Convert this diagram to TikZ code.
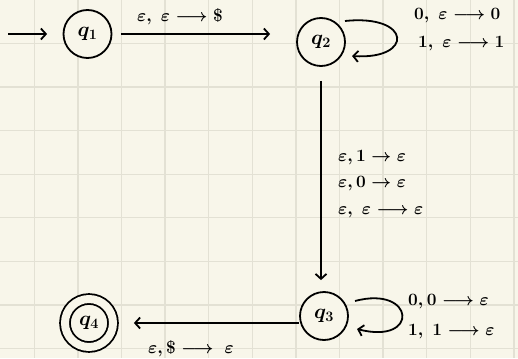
\documentclass[tikz,border=0pt]{standalone}
\usetikzlibrary{arrows.meta}
\definecolor{paper}{HTML}{F8F6EA}
\definecolor{gridline}{HTML}{E3E1D4}
\begin{document}
\begin{tikzpicture}[
    x=1pt, y=-1pt,
    state/.style={circle, draw, fill=paper, line width=1.8pt, minimum size=48pt, inner sep=0pt, font=\fontsize{20}{24}\selectfont\boldmath},
    accept/.style={state, double=paper, double distance=8pt, line width=1.8pt},
    lbl/.style={anchor=west, inner sep=0pt, font=\fontsize{19}{22}\selectfont\boldmath},
    trans/.style={line width=1.8pt, -{Straight Barb[length=5pt, width=11pt]}}
]

% Paper and grid
\fill[paper] (0,0) rectangle (518,358);
\useasboundingbox (0,0) rectangle (518,358);
\foreach \i in {0,...,11}
    \draw[gridline, line width=1.3pt] ({34.3+43.6*\i},0) -- ({34.3+43.6*\i},358);
\foreach \j in {0,...,7}
    \draw[gridline, line width=1.3pt] (0,{43.4+43.6*\j}) -- (518,{43.4+43.6*\j});

% States
\node[state] (q1) at (87.5,34) {$q_1$};
\node[state] (q2) at (321,42) {$q_2$};
\node[state] (q3) at (324,316) {$q_3$};
\node[accept] (q4) at (89,323) {$q_4$};

% Loop ends
\coordinate (start) at (8,34);
\coordinate (q2out) at (345,21);
\coordinate (q2in) at (352,56);
\coordinate (q3out) at (355,301);
\coordinate (q3in) at (357,329);

% Transitions
\draw[trans, shorten >=15.5pt] (start) -- (q1);
\draw[trans, shorten <=8.5pt, shorten >=26pt] (q1.east) -- (q1.east -| q2.west);
\draw[trans, shorten <=14pt, shorten >=11pt] (q2.south) -- (q2.south |- q3.north);
\draw[trans, shorten >=20pt] (q4.east -| q3.west) -- (q4.east);
\draw[trans] (q2out) .. controls (412,14) and (414,60) .. (q2in);
\draw[trans] (q3out) .. controls (415,285) and (420,345) .. (q3in);

% Labels
\node[lbl] (l12) at (137,17) {$\varepsilon,\ \varepsilon\longrightarrow\$$};
\node[lbl] (l22a) at (414,16) {$0,\ \varepsilon\longrightarrow 0$};
\node[lbl] (l22b) at (418,44) {$1,\ \varepsilon\longrightarrow 1$};
\node[lbl] (l23a) at (338,158) {$\varepsilon,1\to\varepsilon$};
\node[lbl] (l23b) at (338,184) {$\varepsilon,0\to\varepsilon$};
\node[lbl] (l23c) at (338,212) {$\varepsilon,\ \varepsilon\longrightarrow\varepsilon$};
\node[lbl] (l33a) at (408,302) {$0,0\longrightarrow\varepsilon$};
\node[lbl] (l33b) at (408,332) {$1,\ 1\longrightarrow\varepsilon$};
\node[lbl] (l34) at (148,349) {$\varepsilon,\$\longrightarrow\ \varepsilon$};

\end{tikzpicture}
\end{document}
